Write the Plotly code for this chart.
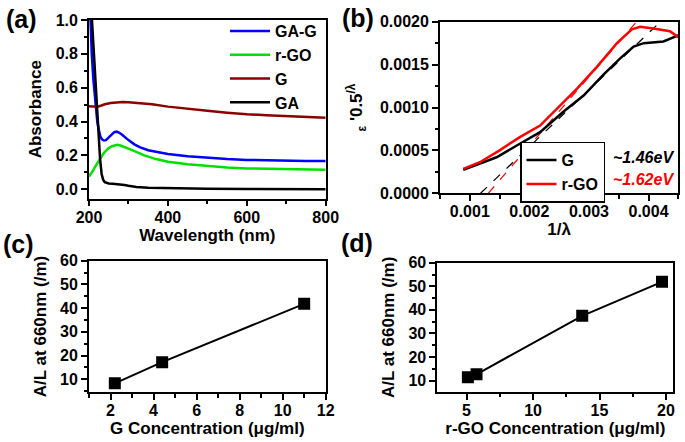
import plotly.graph_objects as go

# ---------------- data ----------------
# (a) UV-vis absorbance
gag_x = [200, 203, 207, 211, 216, 221, 225, 229, 233, 238, 243, 250, 257, 264, 270, 276, 284, 292, 300, 315, 330, 350, 375, 400, 450, 500, 550, 600, 650, 700, 750, 800]
gag_y = [1.25, 1.0, 0.80, 0.65, 0.50, 0.40, 0.35, 0.31, 0.295, 0.288, 0.29, 0.305, 0.325, 0.337, 0.34, 0.335, 0.322, 0.305, 0.29, 0.265, 0.247, 0.23, 0.218, 0.208, 0.195, 0.185, 0.178, 0.173, 0.17, 0.168, 0.167, 0.166]
rgo_x = [200, 205, 210, 215, 220, 225, 230, 235, 240, 245, 250, 258, 265, 272, 280, 290, 300, 320, 340, 370, 400, 450, 500, 550, 600, 650, 700, 750, 800]
rgo_y = [0.075, 0.09, 0.11, 0.13, 0.15, 0.17, 0.19, 0.205, 0.22, 0.232, 0.243, 0.254, 0.26, 0.262, 0.258, 0.25, 0.24, 0.22, 0.2, 0.178, 0.162, 0.147, 0.136, 0.128, 0.123, 0.12, 0.118, 0.116, 0.115]
g_x = [200, 210, 220, 230, 240, 255, 270, 285, 300, 330, 360, 400, 450, 500, 550, 580, 600, 650, 700, 750, 800]
g_y = [0.49, 0.488, 0.487, 0.493, 0.502, 0.51, 0.514, 0.515, 0.514, 0.51, 0.502, 0.488, 0.474, 0.463, 0.452, 0.445, 0.443, 0.437, 0.432, 0.427, 0.422]
ga_x = [200, 205, 210, 215, 220, 224, 228, 232, 236, 240, 245, 250, 260, 270, 280, 290, 300, 320, 350, 400, 450, 500, 600, 700, 800]
ga_y = [1.3, 1.1, 0.9, 0.7, 0.5, 0.33, 0.18, 0.09, 0.055, 0.042, 0.036, 0.034, 0.032, 0.031, 0.029, 0.025, 0.02, 0.013, 0.008, 0.005, 0.003, 0.002, 0.001, 0.0, 0.0]

# (b) Tauc-type plot
b_g_x = [0.00089, 0.00145, 0.00184, 0.00218, 0.00257, 0.00291, 0.00324, 0.00352, 0.00375, 0.00392, 0.00425, 0.0045]
b_g_y = [0.000273, 0.00042, 0.000577, 0.000713, 0.00095, 0.00114, 0.00138, 0.00157, 0.00171, 0.00175, 0.00177, 0.00184]
b_rgo_x = [0.00089, 0.00117, 0.0015, 0.00184, 0.00218, 0.00257, 0.0028, 0.00313, 0.00347, 0.00372, 0.00386, 0.00408, 0.00436, 0.0045]
b_rgo_y = [0.000284, 0.000362, 0.0005, 0.000655, 0.00079, 0.00106, 0.00122, 0.00147, 0.00175, 0.00191, 0.00194, 0.00192, 0.00189, 0.00182]
tan_g_x = [0.00118, 0.0042]
tan_g_y = [0.0, 0.002]
tan_rgo_x = [0.00131, 0.0038]
tan_rgo_y = [0.0, 0.002]
gap_labels = ["~1.46eV", "~1.62eV"]

# (c) G concentration
c_x = [2.2, 4.4, 11.0]
c_y = [8.3, 17.2, 41.8]

# (d) r-GO concentration
d_x = [5.1, 5.75, 13.7, 19.7]
d_y = [11.4, 12.7, 37.5, 51.9]

# tick labels
a_xticks = [200, 400, 600, 800]
a_yticks = [0.0, 0.2, 0.4, 0.6, 0.8, 1.0]
b_xticks = [0.001, 0.002, 0.003, 0.004]
b_yticks = [0.0, 0.0005, 0.001, 0.0015, 0.002]
c_xticks = [2, 4, 6, 8, 10, 12]
cd_yticks = [10, 20, 30, 40, 50, 60]
d_xticks = [5, 10, 15, 20]

# ---------------- figure ----------------
FONT = "Liberation Sans, Arial, sans-serif"
W, H = 685, 442

fig = go.Figure()

def tr(x, y, name, color, xa, ya, legend=None, width=2.5, dash=None, show=True, mode="lines", marker=None):
    fig.add_trace(go.Scatter(
        x=x, y=y, name=name, mode=mode, xaxis=xa, yaxis=ya,
        line=dict(color=color, width=width, dash=dash),
        marker=marker, showlegend=show, legend=legend,
        cliponaxis=True,
    ))

# (a)
tr(gag_x, gag_y, "GA-G", "#0000ff", "x", "y", legend="legend")
tr(rgo_x, rgo_y, "r-GO", "#00e000", "x", "y", legend="legend")
tr(g_x, g_y, "G", "#8b0000", "x", "y", legend="legend")
tr(ga_x, ga_y, "GA", "#000000", "x", "y", legend="legend")

# (b)
tr(tan_g_x, tan_g_y, "tan G", "#000000", "x2", "y2", width=1.2, dash="dash", show=False)
tr(tan_rgo_x, tan_rgo_y, "tan r-GO", "#ff0000", "x2", "y2", width=1.2, dash="dash", show=False)
tr(b_g_x, b_g_y, "G", "#000000", "x2", "y2", legend="legend2")
tr(b_rgo_x, b_rgo_y, "r-GO", "#ff0000", "x2", "y2", legend="legend2")

# (c)
sq = dict(symbol="square", size=12, color="black")
tr(c_x, c_y, "G", "#000000", "x3", "y3", width=2, show=False, mode="lines+markers", marker=sq)
# (d)
tr(d_x, d_y, "r-GO", "#000000", "x4", "y4", width=2, show=False, mode="lines+markers", marker=sq)

tickfont = dict(family=FONT, size=16, color="black", weight="bold")
titlefont = dict(family=FONT, size=17, color="black", weight="bold")

def ax(domain, rng, tickvals, fmt, minor_dtick, title, standoff, anchor, lblstand=0):
    return dict(
        domain=domain, range=rng, tickvals=tickvals, tickformat=fmt,
        ticks="outside", ticklen=6, tickwidth=1.5, tickcolor="black",
        minor=dict(dtick=minor_dtick, ticks="outside", ticklen=3.5, tickwidth=1.5, tickcolor="black", showgrid=False),
        showline=True, linecolor="black", linewidth=1.8, mirror=True,
        showgrid=False, zeroline=False, tickfont=tickfont,
        ticklabelstandoff=lblstand,
        title=dict(text=title, font=titlefont, standoff=standoff),
        anchor=anchor, automargin=False,
    )

def px(x0, x1):
    return [x0 / W, x1 / W]

def py(ytop, ybot):
    return [1 - ybot / H, 1 - ytop / H]

fig.update_layout(
    width=W, height=H, margin=dict(l=0, r=0, t=0, b=0),
    paper_bgcolor="white", plot_bgcolor="white",
    font=dict(family=FONT, size=16, color="black", weight="bold"),
    xaxis=ax(px(89, 325.7), [200, 800], a_xticks, "d", 100, "Wavelength (nm)", 0, "y", -3),
    yaxis=ax(py(20, 198.5), [-0.055, 1.0], a_yticks, ".1f", 0.1, "Absorbance", 10, "x"),
    xaxis2=ax(px(440, 678.3), [0.0005, 0.0045], b_xticks, ".3f", 0.0005, "1/λ", 0, "y2", -3),
    yaxis2=ax(py(21.7, 193.3), [0, 0.002], b_yticks, ".4f", 0.00025, "<sub>ε</sub> '0.5<sup>/λ</sup>", 13, "x2"),
    xaxis3=ax(px(89, 325.7), [1, 12], c_xticks, "d", 1, "G Concentration (μg/ml)", 0, "y3", -3),
    yaxis3=ax(py(260.7, 392.3), [4.5, 60], cd_yticks, "d", 5, "A/L at 660nm (/m)", 9, "x3"),
    xaxis4=ax(px(437.3, 673.3), [2.8, 20.55], d_xticks, "d", 2.5, "r-GO Concentration (μg/ml)", 0, "y4", -3),
    yaxis4=ax(py(262.7, 392), [5.2, 60], cd_yticks, "d", 5, "A/L at 660nm (/m)", 9, "x4"),
    legend=dict(x=322 / W, xanchor="right", y=1 - 14 / H, yanchor="top",
                bgcolor="rgba(0,0,0,0)", font=dict(family=FONT, size=16, weight="bold"),
                itemwidth=40, tracegroupgap=0),
    legend2=dict(x=520 / W, xanchor="left", y=1 - 141.7 / H, yanchor="top",
                 bgcolor="white", bordercolor="black", borderwidth=1.5,
                 font=dict(family=FONT, size=16, weight="bold"), itemwidth=30),
    showlegend=True,
)

panel_labels = ["(a)", "(b)", "(c)", "(d)"]
panel_pos = [(21, 19), (358, 18), (18, 244), (357, 243)]
for lab, (xp, yp) in zip(panel_labels, panel_pos):
    fig.add_annotation(text=lab, x=xp / W, y=1 - yp / H, xref="paper", yref="paper",
                       xanchor="center", yanchor="middle",
                       showarrow=False, font=dict(family=FONT, size=25, weight="bold", color="black"))

gap_colors = ["black", "red"]
gap_y = [157, 179]
for lab, col, yp in zip(gap_labels, gap_colors, gap_y):
    fig.add_annotation(text="<i>" + lab + "</i>", x=611 / W, y=1 - yp / H, xref="paper", yref="paper",
                       xanchor="left", yanchor="middle", showarrow=False,
                       font=dict(family=FONT, size=16, weight="bold", color=col))

fig.write_html("out.html", config={"displayModeBar": False},
               post_script="document.body.style.margin='0px';document.body.style.overflow='hidden';")
